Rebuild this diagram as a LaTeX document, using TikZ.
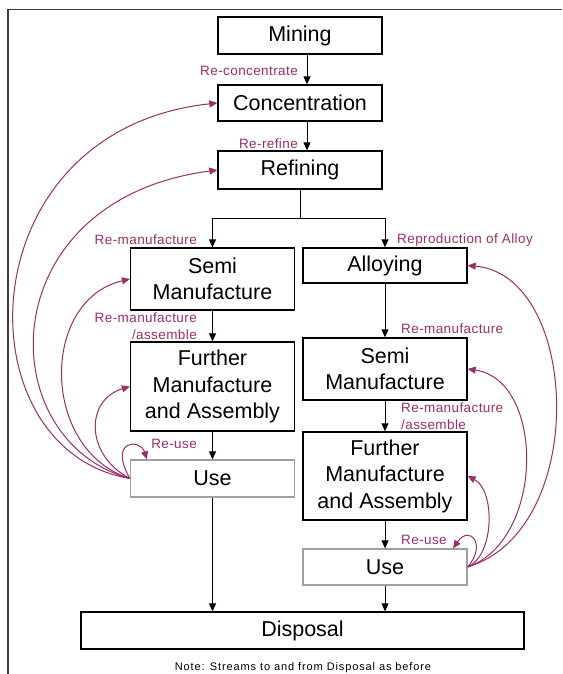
\documentclass[tikz,border=0pt]{standalone}
\usepackage{fontspec}
\setmainfont{Liberation Sans}
\usetikzlibrary{arrows.meta}
\definecolor{flow}{RGB}{155,45,105}
\definecolor{frameline}{RGB}{60,60,60}
\begin{document}
\begin{tikzpicture}[x=1pt,y=-1pt,
  stage/.style={draw=black, line width=1.3pt, minimum width=164pt, inner sep=0pt,
    align=center, font=\fontsize{21.5}{26.5}\selectfont},
  usebox/.style={stage, draw=gray!75},
  down/.style={-{Triangle[length=8pt,width=7pt]}, line width=1pt},
  back/.style={draw=flow, line width=1pt, -{Triangle[length=8pt,width=7pt]}},
  lbl/.style={text=flow, inner sep=0pt,
    font=\fontsize{13.5}{16.5}\selectfont\addfontfeature{LetterSpace=3}},
]
\useasboundingbox (0,0) rectangle (562,674);
\fill[white] (0,0) rectangle (562,674);

% outer frame (left and top edges)
\draw[frameline, line width=1.5pt] (8,674) -- (8,9.5) -- (562,9.5);

% main stages
\node[stage, minimum height=37pt] (mining) at (300,35.5) {Mining};
\node[stage, minimum height=36pt] (conc) at (300,103) {Concentration};
\node[stage, minimum height=38pt] (ref) at (300,170) {Refining};

\node[stage, minimum height=62pt] (semiL) at (212.5,279) {Semi\\Manufacture};
\node[stage, minimum height=89pt] (furthL) at (212.5,386.5) {Further\\Manufacture\\and Assembly};
\node[usebox, minimum height=37pt] (useL) at (212.5,478.5) {Use};

\node[stage, minimum height=35pt] (alloy) at (385,265.5) {Alloying};
\node[stage, minimum height=62pt] (semiR) at (385,369) {Semi\\Manufacture};
\node[stage, minimum height=88pt] (furthR) at (385,476) {Further\\Manufacture\\and Assembly};
\node[usebox, minimum height=36pt] (useR) at (385,567) {Use};

\node[stage, minimum width=443pt, minimum height=37pt] (disp) at (302.5,630.5) {Disposal};

% forward flow
\draw[down] ([xshift=7pt]mining.south) -- ([xshift=7pt]conc.north);
\draw[down] ([xshift=7pt]conc.south) -- ([xshift=7pt]ref.north);
\coordinate (split) at (300,218);
\draw[line width=1pt] (ref.south) -- (split);
\draw[down] (split) -| (semiL.north);
\draw[down] (split) -| (alloy.north);
\draw[down] (semiL) -- (furthL);
\draw[down] (furthL) -- (useL);
\draw[down] (useL) -- (useL |- disp.north);
\draw[down] (alloy) -- (semiR);
\draw[down] (semiR) -- (furthR);
\draw[down] (furthR) -- (useR);
\draw[down] (useR) -- (useR |- disp.north);

% recycling streams, left branch
\coordinate (srcL) at ([yshift=0pt]useL.west);
\draw[back] (srcL) .. controls (-40,450) and (-35,130) .. (conc.west);
\draw[back] (srcL) .. controls (-10,440) and (-10,200) .. (ref.west);
\draw[back] (srcL) .. controls (40,450) and (40,300) .. (semiL.west);
\draw[back] (srcL) .. controls (85,455) and (85,400) .. (furthL.west);
\coordinate (reuseL) at ([xshift=-65.5pt]useL.north);
\draw[back] (srcL) .. controls (108,440) and (140,438) .. (reuseL);

% recycling streams, right branch
\coordinate (srcR) at (useR.east);
\draw[back] (srcR) .. controls (590,530) and (580,275) .. (alloy.east);
\draw[back] (srcR) .. controls (545,540) and (545,380) .. (semiR.east);
\draw[back] (srcR) .. controls (495,555) and (495,490) .. (furthR.east);
\coordinate (reuseR) at ([xshift=68pt]useR.north);
\draw[back] (srcR) .. controls (487,545) and (470,524) .. (reuseR);

% stream labels
\node[lbl, anchor=east] (lconc) at (298,71) {Re-concentrate};
\node[lbl, anchor=east] (lref) at (298,144) {Re-refine};
\node[lbl, anchor=east] (lsemiL) at (197,240) {Re-manufacture};
\node[lbl, anchor=east, align=right] (lfurthL) at (197,326) {Re-manufacture\\/assemble};
\node[lbl, anchor=east] (luseL) at (197,444) {Re-use};
\node[lbl, anchor=west] (lalloy) at (397,240) {Reproduction of Alloy};
\node[lbl, anchor=west] (lsemiR) at (401,329) {Re-manufacture};
\node[lbl, anchor=west, align=left] (lfurthR) at (401,416) {Re-manufacture\\/assemble};
\node[lbl, anchor=west] (luseR) at (401,540) {Re-use};

% footnote
\node[inner sep=0pt, font=\fontsize{11}{13}\selectfont\addfontfeature{LetterSpace=8}] (note) at (303,668)
  {Note: Streams to and from Disposal as before};
\end{tikzpicture}
\end{document}
